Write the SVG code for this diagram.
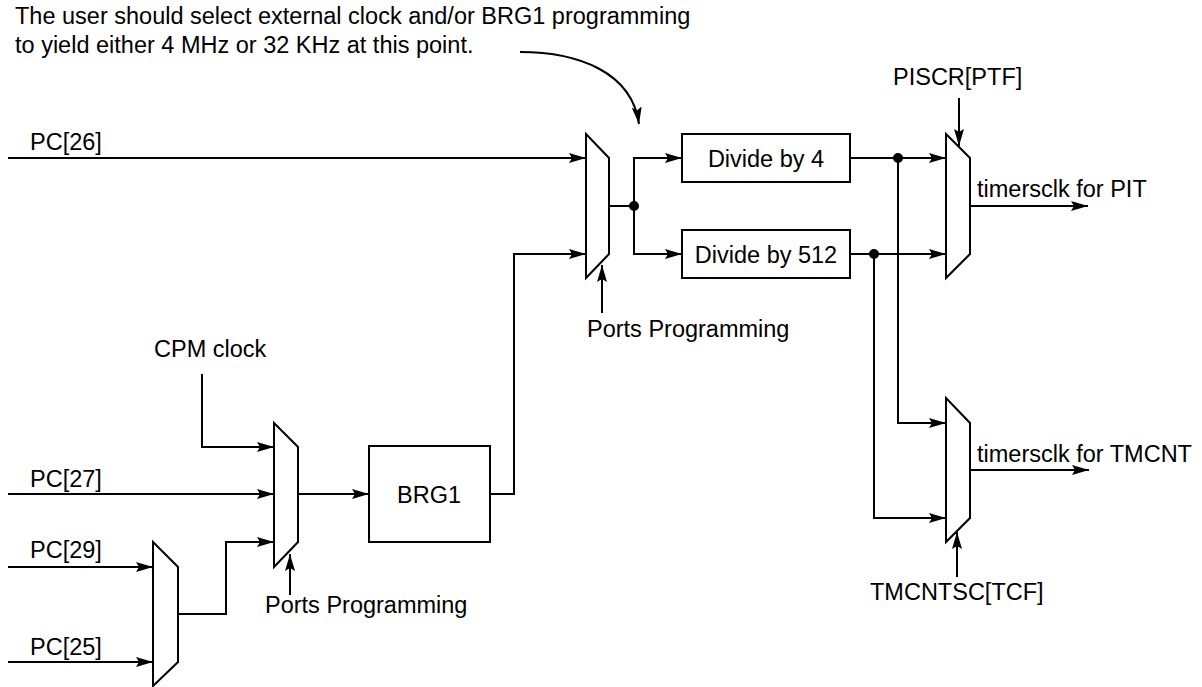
<svg xmlns="http://www.w3.org/2000/svg" width="1202" height="687" viewBox="0 0 1202 687">
<style>
text{font-family:"Liberation Sans",Arial,sans-serif;font-size:23.5px;fill:#000}
.w{fill:none;stroke:#000;stroke-width:2}
.mux,.box{fill:#fff;stroke:#000;stroke-width:2}
.a{marker-end:url(#ah)}
.c{text-anchor:middle}
</style>
<defs>
<marker id="ah" markerUnits="userSpaceOnUse" markerWidth="18" markerHeight="12" refX="17" refY="5" orient="auto">
<path d="M0,0 L17,5 L0,10 L3,5 z" fill="#000"/>
</marker>
</defs>
<g id="note">
<text x="15" y="24">The user should select external clock and/or BRG1 programming</text>
<text x="15" y="53">to yield either 4 MHz or 32 KHz at this point.</text>
</g>
<g id="labels">
<text x="30" y="150">PC[26]</text>
<text x="30" y="487">PC[27]</text>
<text x="30" y="558">PC[29]</text>
<text x="30" y="655">PC[25]</text>
<text x="154" y="357">CPM clock</text>
<text x="265" y="613">Ports Programming</text>
<text x="587" y="337">Ports Programming</text>
<text x="893" y="85">PISCR[PTF]</text>
<text x="870" y="600">TMCNTSC[TCF]</text>
<text x="977" y="197">timersclk for PIT</text>
<text x="977" y="462">timersclk for TMCNT</text>
</g>
<g id="connectors">
<path class="w a" d="M520,52 C578,52 632,72 639,124"/>
<path class="w a" d="M8,158 H586"/>
<path class="w a" d="M490,494 H514 V254 H586"/>
<path class="w" d="M609,206 H634"/>
<path class="w a" d="M634,206 V158 H682"/>
<path class="w a" d="M634,206 V254 H682"/>
<path class="w a" d="M602,313 V265"/>
<path class="w a" d="M850,158 H946"/>
<path class="w a" d="M898,158 V423 H946"/>
<path class="w a" d="M850,254 H946"/>
<path class="w a" d="M874,254 V518 H946"/>
<path class="w a" d="M959,98 V146"/>
<path class="w a" d="M970,206 H1088"/>
<path class="w a" d="M970,470 H1089"/>
<path class="w a" d="M957,577 V532"/>
<path class="w a" d="M202,374 V447 H274"/>
<path class="w a" d="M8,494 H274"/>
<path class="w a" d="M178,614 H226 V542 H274"/>
<path class="w a" d="M298,494 H369"/>
<path class="w a" d="M290,595 V554"/>
<path class="w a" d="M8,567 H153"/>
<path class="w a" d="M8,662 H153"/>
<circle cx="634" cy="206" r="5" fill="#000"/>
<circle cx="898" cy="158" r="5" fill="#000"/>
<circle cx="874" cy="254" r="5" fill="#000"/>
</g>
<g id="mux-ports"><polygon class="mux" points="586,134 609,158 609,254 586,278"/></g>
<g id="div4"><rect class="box" x="682" y="134" width="168" height="48"/><text class="c" x="766" y="167">Divide by 4</text></g>
<g id="div512"><rect class="box" x="682" y="230" width="168" height="48"/><text class="c" x="766" y="263">Divide by 512</text></g>
<g id="mux-pit"><polygon class="mux" points="946,134 970,158 970,254 946,278"/></g>
<g id="mux-tmcnt"><polygon class="mux" points="946,398 970,423 970,518 946,542"/></g>
<g id="mux-cpm"><polygon class="mux" points="274,423 298,447 298,542 274,567"/></g>
<g id="brg1"><rect class="box" x="369" y="446" width="121" height="96"/><text class="c" x="429" y="503">BRG1</text></g>
<g id="mux-low"><polygon class="mux" points="153,542 178,567 178,662 153,686"/></g>
</svg>
